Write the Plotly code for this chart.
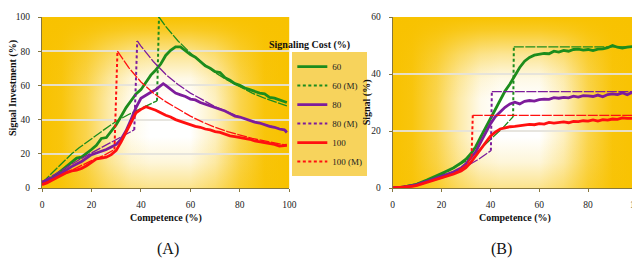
import base64
import plotly.graph_objects as go

# ---------------- data: panel A (Signal Investment %) ----------------
a_x = [0, 2, 4, 6, 8, 10, 12, 14, 16, 18, 20, 22, 24, 26, 28, 30, 32, 34, 36, 38, 40, 42, 44, 46, 48, 49,
       50, 52, 54, 56, 58, 60, 62, 64, 66, 68, 70, 72, 74, 76, 78, 80, 82, 84, 86, 88, 90, 92, 94, 96, 98, 99]
a_green = [3, 4.5, 6, 8, 10.5, 12.5, 15, 17.5, 18, 20, 22.5, 25, 29, 29.5, 33, 37, 42, 47, 51, 55, 57.5, 61.5,
           66, 69, 72.5, 75, 77.5, 80.5, 82.5, 82.5, 80, 78, 76.5, 74, 71.5, 70, 68, 67.5, 64.5, 63, 61, 60, 58.5,
           57.5, 56.5, 55.5, 55, 53, 52.5, 51.5, 50.5, 50]
a_purple = [3.5, 4.5, 5.5, 7, 9, 10.5, 12.5, 14, 15.5, 17.5, 19.5, 20.5, 21.5, 22.5, 24, 25.5, 28.5, 33.5, 40,
            47, 52.5, 54.5, 56, 57.5, 60, 61, 60, 58, 55.5, 54.5, 53.5, 52, 51.5, 50, 49, 48, 47, 46, 45, 43.5,
            42, 41.5, 40.5, 39.5, 38.5, 38, 37, 36, 35.5, 34.5, 34, 32.5]
a_red = [2, 3, 4.5, 6, 7.5, 9, 10, 10.5, 11.5, 13, 15, 17, 17.5, 18, 19.5, 22, 27, 33, 39, 44, 46, 47.5, 46.5,
         45.5, 44, 43, 42.5, 41.5, 40, 39, 38, 37, 36, 35.5, 34.5, 34, 33, 32.5, 31.5, 30.5, 30, 29.5, 29, 28.5,
         27.5, 27, 26.5, 26, 25.5, 24.5, 25, 25]

# model (M) curves, panel A: lower branch, then upper branch after the jump
am_green_lo_x = [0, 5, 10, 12, 15, 20, 25, 30, 35, 40, 45, 46.5]
am_green_lo_y = [3, 10, 17, 20, 23.5, 29, 34, 39, 43, 46.5, 50, 51]
am_green_hi_x = [47.3, 50, 55, 60, 65, 70, 75, 80, 85, 90, 95, 99]
am_green_hi_y = [100, 94.5, 86, 79, 73, 67.5, 63, 59, 55.5, 52.5, 50, 48]

am_purple_lo_x = [0, 5, 10, 15, 20, 25, 30, 35, 37.3]
am_purple_lo_y = [3.5, 8, 12.5, 16.5, 20.5, 24.5, 28, 32, 34]
am_purple_hi_x = [38.5, 40, 45, 50, 55, 60, 65, 70, 75, 80, 85, 90, 95, 99]
am_purple_hi_y = [86, 83, 74, 66.5, 60.5, 55.5, 51.5, 47.5, 44.5, 41.5, 39, 37, 35, 33.5]

am_red_lo_x = [0, 5, 10, 15, 20, 25, 29.3]
am_red_lo_y = [2, 5.5, 9, 12.5, 16, 19, 22.5]
am_red_hi_x = [30.5, 35, 40, 45, 50, 55, 60, 65, 70, 75, 80, 85, 90, 95, 99]
am_red_hi_y = [80, 70.5, 62, 55.5, 50.5, 46, 42, 38.5, 35.5, 33, 31, 29, 27.5, 26, 25]

# ---------------- data: panel B (Signal %) ----------------
b_x = [0, 4, 8, 10, 14, 18, 20, 22, 25, 28, 30, 32, 34, 36, 38, 40, 42, 44, 46, 48, 50, 52, 54, 56, 58, 60,
       62, 64, 66, 68, 70, 72, 74, 76, 78, 80, 82, 84, 86, 88, 90, 92, 94, 96, 98, 99.5]
b_green = [0, 0.3, 0.9, 1.4, 2.8, 4.2, 5.1, 5.9, 7.1, 8.8, 10.1, 12, 14.5, 17.8, 21, 24, 27.7, 30.8, 34, 36.5,
           39.3, 42.3, 44.5, 45.8, 46.6, 46.9, 47.2, 47.1, 48, 47.7, 48.3, 48, 48.6, 48.7, 48.4, 48.6, 48.2,
           48.7, 48.8, 49.2, 50, 49.4, 49.1, 49.4, 49.5, 49.8]
b_purple = [0, 0.2, 0.8, 1.2, 2.3, 3.4, 4, 4.7, 5.7, 7, 8.5, 10.5, 12.7, 16, 19.5, 22.5, 25, 26.8, 28.3, 29.5,
            30.1, 29.5, 30.4, 30.7, 30.5, 31, 31.2, 31.1, 31.7, 31.5, 31.8, 31.6, 32.2, 31.9, 32.4, 32.3, 32.1,
            32.6, 32, 32.8, 33, 32.8, 33.4, 32.7, 33.6, 32]
b_red = [0, 0.2, 0.6, 0.9, 1.9, 2.9, 3.4, 4, 4.9, 6, 7.1, 9, 11.3, 13.7, 16, 18.2, 19.6, 20.7, 21.1, 21.5,
         21.6, 21.9, 22, 22.3, 22.2, 22.6, 22.4, 23, 22.8, 23.1, 23.2, 22.9, 23.4, 23.3, 23.6, 23.5, 23.9,
         23.5, 24, 23.8, 24.2, 24.1, 24.6, 24.4, 24.4, 24.4]

bm_green_lo_x = [0, 10, 20, 30, 35, 40, 45, 49.3]
bm_green_lo_y = [0, 1.5, 4.5, 9.5, 13, 17, 21, 25]
bm_green_hi_x = [49.6, 60, 70, 80, 90, 99.5]
bm_green_hi_y = [49.5, 49.5, 49.5, 49.5, 49.5, 49.5]

bm_purple_lo_x = [0, 10, 20, 25, 30, 35, 40.2]
bm_purple_lo_y = [0, 1.3, 3.8, 5.3, 7.5, 10, 13.1]
bm_purple_hi_x = [40.6, 50, 60, 70, 80, 90, 99.5]
bm_purple_hi_y = [33.8, 33.8, 33.8, 33.8, 33.8, 33.8, 33.8]

bm_red_lo_x = [0, 10, 20, 25, 30, 32.3]
bm_red_lo_y = [0, 1, 3.5, 5, 8, 11]
bm_red_hi_x = [32.8, 40, 50, 60, 70, 80, 90, 99.5]
bm_red_hi_y = [25.5, 25.5, 25.5, 25.5, 25.5, 25.5, 25.5, 25.5]

cost_names = ["60", "80", "100"]
x_ticks = [0, 20, 40, 60, 80, 100]
a_y_ticks = [0, 20, 40, 60, 80, 100]
b_y_ticks = [0, 20, 40, 60]

# ---------------- style ----------------
GREEN = "#1C8C1C"
PURPLE = "#7D1C9C"
RED = "#FF1010"
YEL = "#F8C200"
FONT = "Liberation Serif, Times New Roman, DejaVu Serif, serif"
AXC = "#86773E"

fig = go.Figure()

series = [
    (cost_names[0], GREEN, a_green, b_green,
     (am_green_lo_x, am_green_lo_y, am_green_hi_x, am_green_hi_y),
     (bm_green_lo_x, bm_green_lo_y, bm_green_hi_x, bm_green_hi_y)),
    (cost_names[1], PURPLE, a_purple, b_purple,
     (am_purple_lo_x, am_purple_lo_y, am_purple_hi_x, am_purple_hi_y),
     (bm_purple_lo_x, bm_purple_lo_y, bm_purple_hi_x, bm_purple_hi_y)),
    (cost_names[2], RED, a_red, b_red,
     (am_red_lo_x, am_red_lo_y, am_red_hi_x, am_red_hi_y),
     (bm_red_lo_x, bm_red_lo_y, bm_red_hi_x, bm_red_hi_y)),
]

rank = 1
for name, col, ya, yb, ma, mb in series:
    for panel, (xs, ys, mod, xa, ya_ax) in enumerate([(a_x, ya, ma, "x", "y"), (b_x, yb, mb, "x2", "y2")]):
        first = panel == 0
        lo_x, lo_y, hi_x, hi_y = mod
        # thin model branches
        for mx, my in [(lo_x, lo_y), (hi_x, hi_y)]:
            fig.add_trace(go.Scatter(x=mx, y=my, mode="lines", xaxis=xa, yaxis=ya_ax,
                                     line=dict(color=col, width=1.3, dash="10px,1.5px"),
                                     showlegend=False, legendgroup=name + "M", hoverinfo="skip"))
        # empirical (thick, noisy)
        fig.add_trace(go.Scatter(x=xs, y=ys, mode="lines", xaxis=xa, yaxis=ya_ax, name=name,
                                 line=dict(color=col, width=2.8), showlegend=first,
                                 legendgroup=name, legendrank=rank))
        # model jump (dotted)
        fig.add_trace(go.Scatter(x=[lo_x[-1], hi_x[0]], y=[lo_y[-1], hi_y[0]], mode="lines",
                                 xaxis=xa, yaxis=ya_ax, name=name + " (M)",
                                 line=dict(color=col, width=2, dash="3px,2.5px"), showlegend=first,
                                 legendgroup=name + "M", legendrank=rank + 1))
    rank += 2


def grad_uri():
    h = [(0, 1), (0.08, 0.95), (0.18, 0.7), (0.27, 0.35), (0.36, 0.08), (0.44, 0), (0.6, 0),
         (0.7, 0.25), (0.8, 0.7), (0.9, 0.96), (1, 1)]
    v = [(0, 1), (0.08, 0.85), (0.22, 0.42), (0.36, 0.1), (0.48, 0), (0.7, 0), (0.85, 0.15), (1, 0.45)]
    hs = "".join(f'<stop offset="{o}" stop-color="{YEL}" stop-opacity="{a}"/>' for o, a in h)
    vs = "".join(f'<stop offset="{o}" stop-color="{YEL}" stop-opacity="{a}"/>' for o, a in v)
    svg = (f'<svg xmlns="http://www.w3.org/2000/svg" width="400" height="300" viewBox="0 0 400 300" '
           f'preserveAspectRatio="none"><defs>'
           f'<linearGradient id="h" x1="0" y1="0" x2="1" y2="0">{hs}</linearGradient>'
           f'<linearGradient id="v" x1="0" y1="0" x2="0" y2="1">{vs}</linearGradient></defs>'
           f'<rect width="400" height="300" fill="#FFFFFF"/>'
           f'<rect width="400" height="300" fill="url(#h)"/>'
           f'<rect width="400" height="300" fill="url(#v)"/></svg>')
    return "data:image/svg+xml;base64," + base64.b64encode(svg.encode()).decode()


DA = [0, 0.4157]
DB = [0.5893, 1.0]
uri = grad_uri()
images = [dict(source=uri, xref="paper", yref="paper", x=d[0], y=1, sizex=d[1] - d[0], sizey=1,
               xanchor="left", yanchor="top", sizing="stretch", layer="below") for d in (DA, DB)]

axis_common = dict(showline=True, linecolor=AXC, linewidth=1, ticks="outside", tickcolor=AXC,
                   ticklen=3, tickfont=dict(family=FONT, size=9.5, color="#222"), zeroline=False,
                   ticklabeloverflow="allow")

fig.update_layout(
    width=640, height=262,
    margin=dict(l=34, r=7, t=4, b=82),
    paper_bgcolor="white", plot_bgcolor="rgba(0,0,0,0)",
    images=images,
    font=dict(family=FONT),
    xaxis=dict(domain=DA, range=[0, 100], tickvals=x_ticks, showgrid=False, anchor="y",
               ticklabelstandoff=5, **axis_common),
    yaxis=dict(domain=[0, 1], range=[0, 100], tickvals=a_y_ticks, anchor="x", showgrid=True,
               gridcolor="rgba(228,226,220,0.9)", gridwidth=1.5, ticklabelstandoff=6, **axis_common),
    xaxis2=dict(domain=DB, range=[0, 100], tickvals=x_ticks, showgrid=False, anchor="y2",
                ticklabelstandoff=5, **axis_common),
    yaxis2=dict(domain=[0, 1], range=[0, 60], tickvals=b_y_ticks, anchor="x2", showgrid=True,
                gridcolor="rgba(228,226,220,0.9)", gridwidth=1.5, ticklabelstandoff=6, **axis_common),
    showlegend=True,
    legend=dict(x=0.4207, y=0.795, xanchor="left", yanchor="top", bgcolor="#F7D35C", borderwidth=0,
                font=dict(family=FONT, size=9, color="#222"), itemwidth=30, tracegroupgap=0,
                traceorder="normal"),
)

ann_font = dict(family=FONT, size=10, color="#111")


def px_x(p):
    return (p - 34) / 599


def px_y(p):
    return (180 - p) / 176


anns = [
    dict(text="<b>Signal Investment (%)</b>", x=px_x(5), y=px_y(77), textangle=-90, font=ann_font),
    dict(text="<b>Signal (%)</b>", x=px_x(361), y=px_y(92), textangle=-90, font=ann_font),
    dict(text="<b>Competence (%)</b>", x=px_x(158.5), y=px_y(211), font=ann_font),
    dict(text="<b>Competence (%)</b>", x=px_x(510), y=px_y(211), font=ann_font),
    dict(text="<b>Signaling Cost (%)</b>", x=px_x(303), y=px_y(33), font=ann_font),
    dict(text="(A)", x=px_x(161), y=px_y(243), font=dict(family=FONT, size=16, color="#111")),
    dict(text="(B)", x=px_x(497), y=px_y(243), font=dict(family=FONT, size=16, color="#111")),
]
for a in anns:
    fig.add_annotation(xref="paper", yref="paper", showarrow=False, xanchor="center", yanchor="middle", **a)

fig.write_html("out.html")
